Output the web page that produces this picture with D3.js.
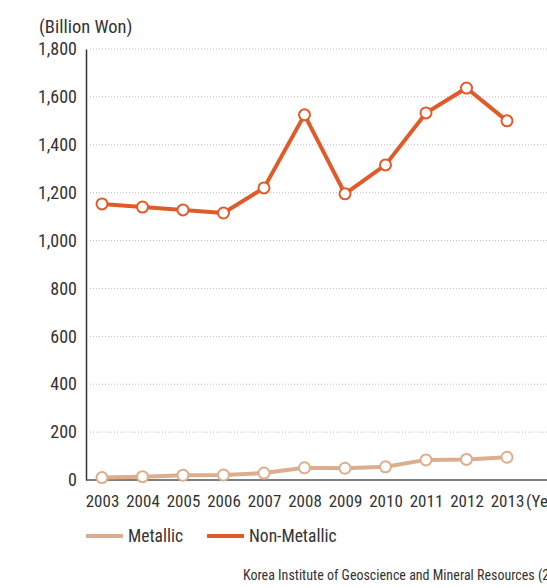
<!DOCTYPE html>
<html>
<head>
<meta charset="utf-8">
<script src="https://cdn.jsdelivr.net/npm/d3@7/dist/d3.min.js"></script>
<style>
  html, body { margin: 0; padding: 0; background: #fff; }
  svg { display: block; }
  text { font-family: "Liberation Sans Narrow", "Roboto Condensed", "Arial Narrow", sans-serif; fill: #333; }
</style>
</head>
<body>
<svg id="chart" width="547" height="588"></svg>
<script>
// Production value by mineral type, billion won
const years = ["2003","2004","2005","2006","2007","2008","2009","2010","2011","2012","2013"];
const metallic = [10, 14, 20, 21, 29, 51, 49, 55, 84, 86, 95];
const nonMetallic = [1153, 1140, 1128, 1115, 1220, 1525, 1195, 1316, 1533, 1637, 1500];
const yTicks = [0, 200, 400, 600, 800, 1000, 1200, 1400, 1600, 1800];

const svg = d3.select("#chart");
const plotLeft = 86, plotRight = 547, plotTop = 49, plotBottom = 480;

const x = d3.scalePoint().domain(years).range([102, 507]);
const y = d3.scaleLinear().domain([0, 1800]).range([plotBottom, plotTop]);

// dotted horizontal gridlines
svg.append("g").selectAll("line").data(yTicks.filter(d => d > 0)).join("line")
  .attr("x1", plotLeft + 4).attr("x2", plotRight)
  .attr("y1", d => y(d)).attr("y2", d => y(d))
  .attr("stroke", "#bbb").attr("stroke-width", 1).attr("stroke-dasharray", "1,2");

// y axis
const yAxis = svg.append("g").attr("transform", `translate(${plotLeft},0)`)
  .call(d3.axisLeft(y).tickValues(yTicks).tickSize(0).tickPadding(9)
    .tickFormat(d3.format(",")));
yAxis.select(".domain").attr("stroke", "#333").attr("stroke-width", 1.5);
yAxis.selectAll("text").style("font-size", "18px").attr("fill", "#333");

// x axis
const xAxis = svg.append("g").attr("transform", `translate(0,${plotBottom})`)
  .call(d3.axisBottom(x).tickSize(0).tickPadding(15));
xAxis.select(".domain").attr("d", `M${plotLeft},0H${plotRight}`).attr("stroke", "#555").attr("stroke-width", 1.5);
xAxis.selectAll("text").style("font-size", "17px").attr("fill", "#333");

svg.append("text").attr("x", 526).attr("y", 507).style("font-size", "17px").text("(Year)");
svg.append("text").attr("x", 39).attr("y", 33).style("font-size", "18.5px").text("(Billion Won)");

const series = [
  { name: "Metallic", values: metallic, color: "#dcae8e" },
  { name: "Non-Metallic", values: nonMetallic, color: "#e05a2a" }
];

const line = d3.line().x((d, i) => x(years[i])).y(d => y(d));

series.forEach(s => {
  const g = svg.append("g");
  g.append("path").datum(s.values).attr("d", line)
    .attr("fill", "none").attr("stroke", s.color).attr("stroke-width", 4)
    .attr("stroke-linejoin", "round");
  g.selectAll("circle").data(s.values).join("circle")
    .attr("cx", (d, i) => x(years[i])).attr("cy", d => y(d)).attr("r", 5.5)
    .attr("fill", "#fff").attr("stroke", s.color).attr("stroke-width", 2);
});

// legend
const legend = svg.append("g");
const legendPos = [{ lx: 86, tx: 128 }, { lx: 207, tx: 249 }];
series.forEach((s, i) => {
  legend.append("line").attr("x1", legendPos[i].lx).attr("x2", legendPos[i].lx + 37)
    .attr("y1", 536).attr("y2", 536).attr("stroke", s.color).attr("stroke-width", 4);
  legend.append("text").attr("x", legendPos[i].tx).attr("y", 542)
    .style("font-size", "17.5px").text(s.name);
});

svg.append("text").attr("x", 243).attr("y", 580).style("font-size", "14px")
  .text("Korea Institute of Geoscience and Mineral Resources (2014)");
</script>
</body>
</html>
